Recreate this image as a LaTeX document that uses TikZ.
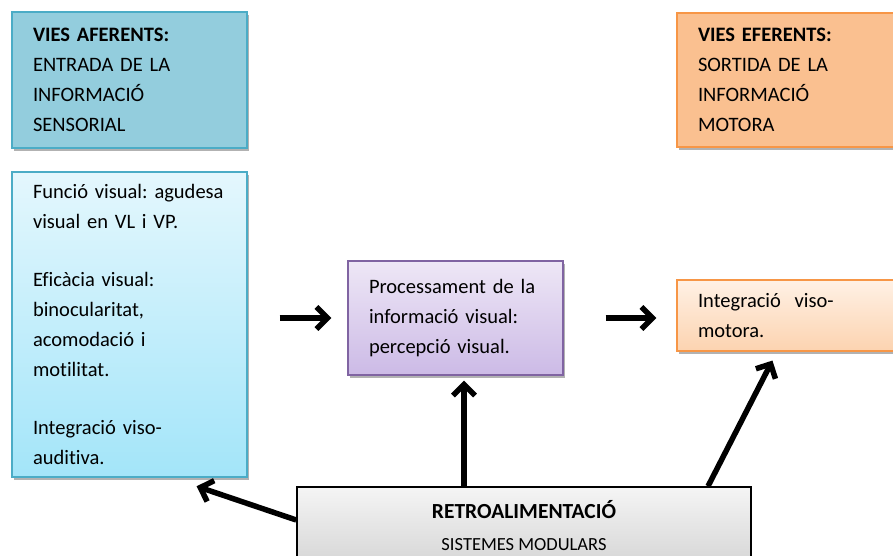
\documentclass[tikz,border=0pt]{standalone}
\usepackage{fontspec}
\setmainfont{Carlito}[Ligatures=NoCommon]
\usetikzlibrary{arrows.meta,shadows,positioning}

\definecolor{aquaLine}{HTML}{4BACC6}
\definecolor{aquaFill}{HTML}{93CDDD}
\definecolor{aquaTop}{HTML}{E4F7FD}
\definecolor{aquaBottom}{HTML}{A3E5F9}
\definecolor{orangeLine}{HTML}{F79646}
\definecolor{orangeFill}{HTML}{FAC090}
\definecolor{orangeTop}{HTML}{FFF1E5}
\definecolor{orangeBottom}{HTML}{FCD3B0}
\definecolor{violetLine}{HTML}{8064A2}
\definecolor{violetTop}{HTML}{EEE7F6}
\definecolor{violetBottom}{HTML}{CCBAE6}

\tikzset{
  infoBox/.style={draw, rectangle, line width=1.3pt, inner xsep=21pt, align=left,
    font=\fontsize{20.5}{30}\selectfont\frenchspacing,
    drop shadow={shadow xshift=2pt, shadow yshift=-3pt, opacity=0.3, fill=black}},
  thickArrow/.style={line width=5.5pt, -{Straight Barb[length=11pt,width=22pt]}}
}

\begin{document}
\begin{tikzpicture}[x=1pt,y=-1pt]
  \clip (0,0) rectangle (893,556);

  % Header boxes
  \node[infoBox, draw=aquaLine, fill=aquaFill, minimum width=235, minimum height=136, text width=193]
    (aferents) at (129.5,80) {\textbf{VIES AFERENTS:}\\ENTRADA DE LA\\INFORMACIÓ\\SENSORIAL};
  \node[infoBox, draw=orangeLine, fill=orangeFill, minimum width=228, minimum height=134, text width=186]
    (eferents) at (791,80) {\textbf{VIES EFERENTS:}\\SORTIDA DE LA\\INFORMACIÓ\\MOTORA};

  %Flow boxes
  \node[infoBox, draw=aquaLine, top color=aquaTop, bottom color=aquaBottom, minimum width=235, minimum height=305, text width=193]
    (sensorial) at (129.5,324.5) {\mbox{Funció visual: agudesa}\\visual en VL i VP.\\[28pt]Eficàcia visual:\\binocularitat,\\acomodació i\\motilitat.\\[28pt]Integració viso-\\auditiva.};
  \node[infoBox, draw=violetLine, top color=violetTop, bottom color=violetBottom, minimum width=215, minimum height=114, text width=173]
    (processing) at (455.5,318) {Processament de la\\informació visual:\\percepció visual.};
  \node[infoBox, draw=orangeLine, top color=orangeTop, bottom color=orangeBottom, minimum width=228, minimum height=71, text width=186]
    (motorInt) at (791,315.5) {Integració\ \ viso-\\motora.};

  % Feedback
  \node[draw, rectangle, line width=1.5pt, top color=gray!8, bottom color=gray!32, minimum width=454, minimum height=77, align=center,
    font=\fontsize{18.5}{32}\selectfont]
    (feedback) at (524,525.5) {{\fontsize{21.5}{32}\selectfont\bfseries RETROALIMENTACIÓ}\\SISTEMES MODULARS};

  % Arrows
  \draw[thickArrow, shorten <=32pt, shorten >=16pt] (sensorial.east |- processing.west) -- (processing.west);
  \draw[thickArrow, shorten <=42pt, shorten >=20pt] (processing.east) -- (motorInt.west |- processing.east);
  \draw[thickArrow, shorten >=5pt] ([xshift=-60pt]feedback.north) -- ([xshift=-60pt]feedback.north |- processing.south);
  \draw[thickArrow, shorten >=10pt] ([xshift=184pt]feedback.north) -- ([xshift=-14pt]motorInt.south);
  \draw[thickArrow, shorten >=27pt] ([yshift=5.5pt]feedback.west) -- ([xshift=41.5pt]sensorial.south);
\end{tikzpicture}
\end{document}
